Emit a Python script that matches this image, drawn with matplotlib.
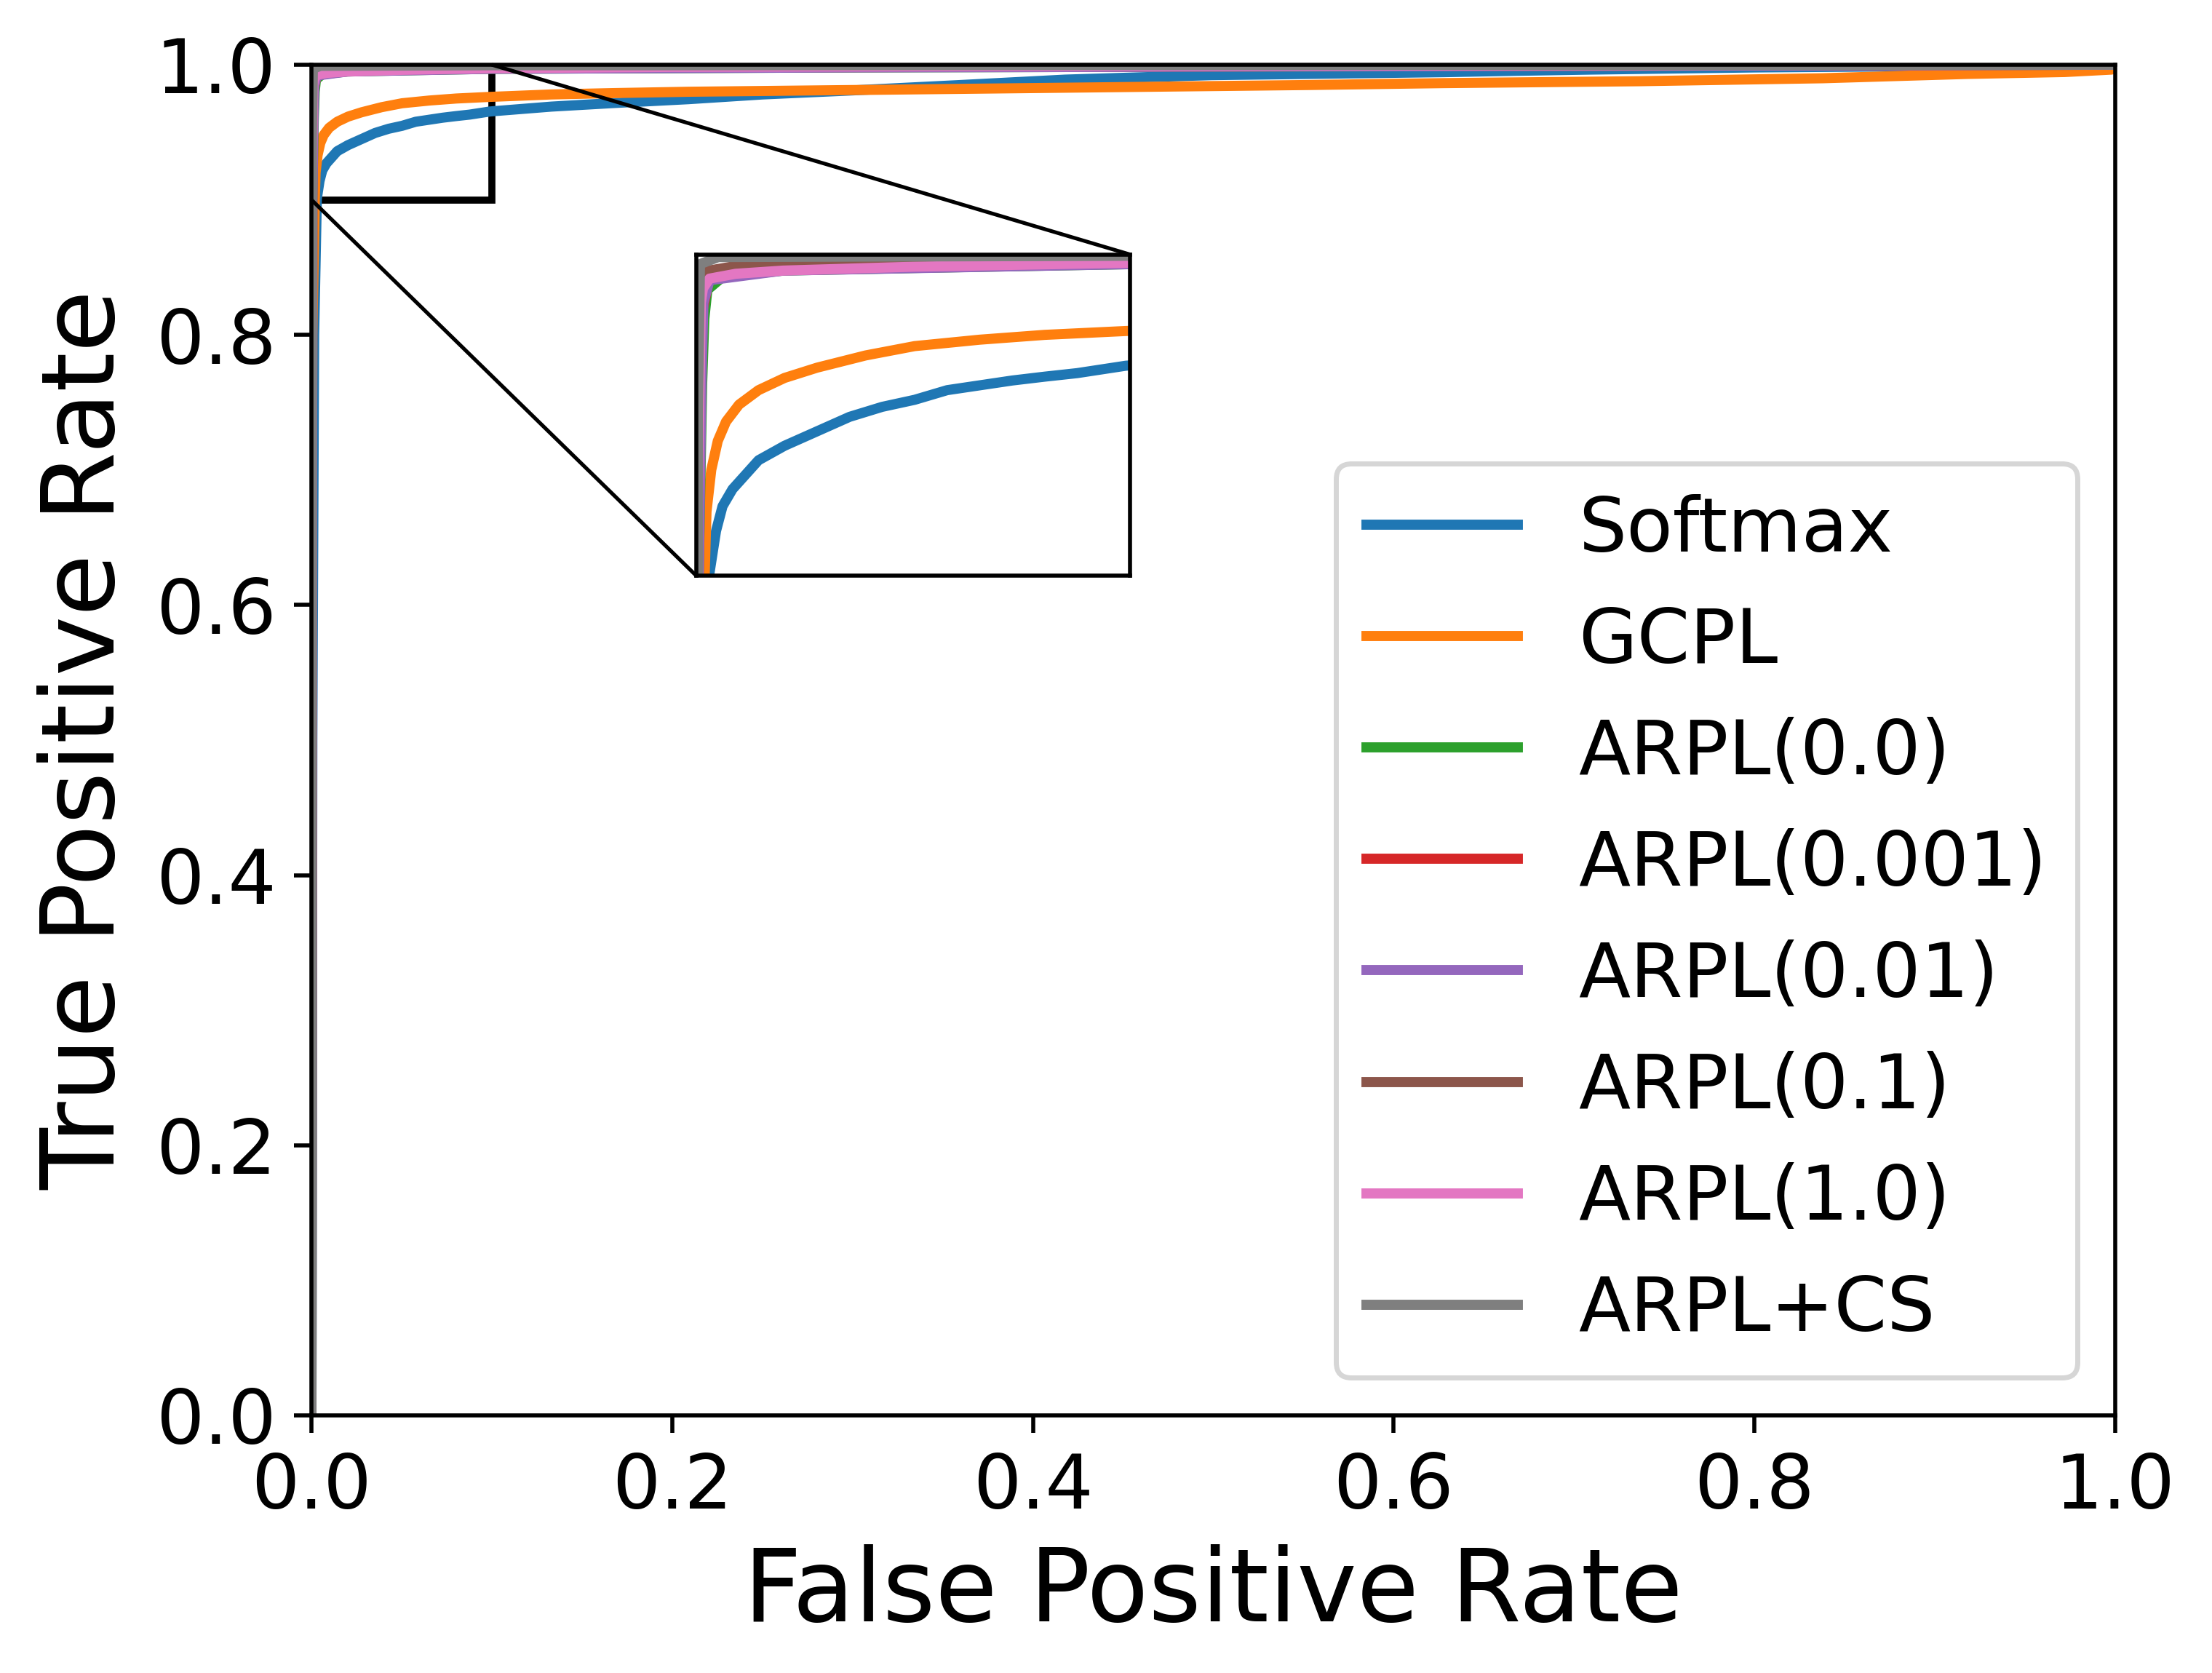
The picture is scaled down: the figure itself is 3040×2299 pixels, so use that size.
import matplotlib
matplotlib.use('Agg')
import matplotlib.pyplot as plt
from mpl_toolkits.axes_grid1.inset_locator import mark_inset

# ROC curves (FPR, TPR)
labels = ['Softmax', 'GCPL', 'ARPL(0.0)', 'ARPL(0.001)', 'ARPL(0.01)',
          'ARPL(0.1)', 'ARPL(1.0)', 'ARPL+CS']

softmax_fpr = [0.0, 0.0005, 0.0015, 0.003, 0.0045, 0.006, 0.0083, 0.0113, 0.0143,
               0.0203, 0.0278, 0.0353, 0.0428, 0.0503, 0.0578, 0.0653, 0.0728,
               0.0803, 0.0878, 0.099, 0.133, 0.167, 0.209, 0.25, 0.3, 0.36,
               0.418, 0.499, 0.553, 0.628, 0.668, 0.709, 0.8, 0.9, 1.0]
softmax_tpr = [0.0, 0.5, 0.8, 0.901, 0.914, 0.9217, 0.927, 0.9315, 0.936,
               0.9405, 0.945, 0.9495, 0.9526, 0.9548, 0.9578, 0.9593, 0.9608,
               0.962, 0.9631, 0.9654, 0.969, 0.9716, 0.9745, 0.978, 0.981, 0.985,
               0.989, 0.9923, 0.9932, 0.9945, 0.9955, 0.9964, 0.998, 0.999, 1.0]

gcpl_fpr = [0.0, 0.0, 0.0005, 0.0019, 0.0023, 0.0034, 0.0049, 0.0068, 0.0098,
            0.0143, 0.0203, 0.0278, 0.039, 0.0503, 0.0653, 0.0803, 0.099, 0.133,
            0.167, 0.209, 0.316, 0.418, 0.499, 0.553, 0.628, 0.736, 0.838, 0.918,
            0.972, 0.998, 1.0]
gcpl_tpr = [0.0, 0.5, 0.8, 0.901, 0.92, 0.933, 0.942, 0.948, 0.9533,
            0.9578, 0.9616, 0.9648, 0.9686, 0.9715, 0.9735, 0.975, 0.9762, 0.978,
            0.979, 0.980, 0.9815, 0.983, 0.9842, 0.985, 0.9864, 0.9878, 0.99, 0.9932,
            0.9946, 0.9964, 1.0]

arpl00_fpr = [0.0, 0.0005, 0.0013, 0.0018, 0.0025, 0.006, 0.02, 0.05, 0.1, 0.3, 1.0]
arpl00_tpr = [0.0, 0.9, 0.96, 0.98, 0.989, 0.993, 0.995, 0.9958, 0.997, 0.998, 1.0]

arpl0001_fpr = [0.0, 0.0005, 0.001, 0.003, 0.02, 0.05, 0.2, 1.0]
arpl0001_tpr = [0.0, 0.92, 0.98, 0.993, 0.996, 0.997, 0.998, 1.0]

arpl001_fpr = [0.0, 0.0005, 0.0012, 0.0016, 0.003, 0.02, 0.1, 0.3, 1.0]
arpl001_tpr = [0.0, 0.9, 0.965, 0.985, 0.992, 0.995, 0.997, 0.998, 1.0]

arpl01_fpr = [0.0, 0.0, 0.0008, 0.0015, 0.0098, 0.05, 0.1, 0.3, 1.0]
arpl01_tpr = [0.0, 0.9, 0.99, 0.9947, 0.9966, 0.9983, 0.9988, 0.9993, 1.0]

arpl1_fpr = [0.0, 0.0, 0.001, 0.0015, 0.003, 0.009, 0.02, 0.05, 0.099, 0.2, 0.4, 0.7, 1.0]
arpl1_tpr = [0.0, 0.9, 0.985, 0.9895, 0.9925, 0.994, 0.995, 0.9962, 0.9974, 0.9984,
             0.999, 0.9995, 1.0]

arplcs_fpr = [0.0, 0.0003, 0.0008, 0.005, 0.1, 1.0]
arplcs_tpr = [0.0, 0.95, 0.997, 0.9992, 0.9996, 1.0]

curves = [(softmax_fpr, softmax_tpr), (gcpl_fpr, gcpl_tpr),
          (arpl00_fpr, arpl00_tpr), (arpl0001_fpr, arpl0001_tpr),
          (arpl001_fpr, arpl001_tpr), (arpl01_fpr, arpl01_tpr),
          (arpl1_fpr, arpl1_tpr), (arplcs_fpr, arplcs_tpr)]

fig = plt.figure(figsize=(6.08, 4.598), dpi=500)
ax = fig.add_axes([0.1408, 0.154, 0.8154, 0.8073])
for (f, t), lab in zip(curves, labels):
    ax.plot(f, t, lw=2, label=lab)
ax.set_xlim(0, 1)
ax.set_ylim(0, 1)
ax.set_xlabel('False Positive Rate', fontsize=20)
ax.set_ylabel('True Positive Rate', fontsize=20)
ax.tick_params(labelsize=15)
ax.legend(loc='lower right', fontsize=15)

#zoomed inset of the top-left corner
axins = ax.inset_axes([0.2135, 0.6215, 0.2404, 0.238])
for f, t in curves:
    axins.plot(f, t, lw=2)
axins.set_xlim(0, 0.1)
axins.set_ylim(0.9, 1.0)
axins.set_xticks([])
axins.set_yticks([])
pp, p1, p2 = mark_inset(ax, axins, loc1=1, loc2=3, fc='none', ec='k')
pp.set_linewidth(1.4)
p1.set_linewidth(0.75)
p2.set_linewidth(0.75)

fig.savefig('out.png', dpi=500)
